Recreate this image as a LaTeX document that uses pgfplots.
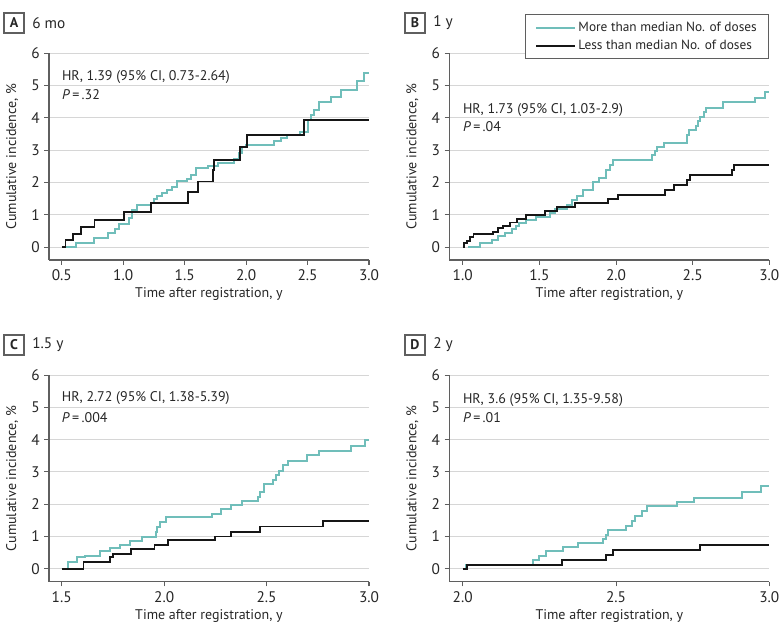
\documentclass[border=0pt]{standalone}
\usepackage{fontspec}
\setmainfont{PT Sans}
\usepackage{pgfplots}
\pgfplotsset{compat=1.18}

\definecolor{moreC}{RGB}{112,190,186}
\definecolor{lessC}{RGB}{22,22,22}
\definecolor{gridC}{RGB}{214,214,214}
\definecolor{axC}{RGB}{95,95,95}

\newcommand{\lblfont}{\fontsize{10.5}{12}\selectfont}
\newcommand{\tickfont}{\fontsize{11.5}{13}\selectfont}

\pgfplotsset{
  km/.style={
    scale only axis, width=240pt, height=155pt,
    ymin=-0.4, ymax=6, xmax=3.0,
    axis x line*=bottom, axis y line*=left,
    ytick={0,1,...,6},
    ymajorgrids, grid style={gridC, line width=0.8pt},
    axis line style={axC, line width=0.8pt},
    tick style={axC, line width=0.8pt},
    tick align=outside, major tick length=3.5pt,
    xticklabel style={/pgf/number format/fixed, /pgf/number format/fixed zerofill, /pgf/number format/precision=1},
    /pgf/number format/assume math mode=true,
    tick label style={font=\tickfont, text=black!85},
    label style={font=\lblfont, text=black!85},
    xlabel={Time after registration, y},
    ylabel={Cumulative incidence, \%},
    xlabel style={at={(axis description cs:0.5,-0.165)}, anchor=center},
    ylabel style={at={(axis description cs:-0.115,0.5)}, anchor=center},
    clip=false,
  },
  more/.style={const plot, no marks, color=moreC, line width=1.5pt},
  less/.style={const plot, no marks, color=lessC, line width=1.4pt},
}

\newcommand{\hr}[3]{%
  \node[anchor=west, font=\lblfont, text=black!85, inner sep=0pt] at (axis cs:#1,#2) {#3};}

\begin{document}
\begin{tikzpicture}
\useasboundingbox (0,0) rectangle (587.25pt,475.5pt);

% A: 6 mo
\begin{axis}[km, at={(36.75pt,280.5pt)}, anchor=south west,
  xmin=0.396, xtick={0.5,1.0,1.5,2.0,2.5,3.0}]
\addplot[more] coordinates {
(0.527,0) (0.617,0.12) (0.766,0.28) (0.88,0.43) (0.935,0.56) (0.962,0.72)
(1.044,0.90) (1.071,1.15) (1.112,1.31) (1.226,1.38) (1.247,1.48) (1.274,1.59)
(1.315,1.67) (1.356,1.77) (1.40,1.87) (1.438,2.06) (1.52,2.10) (1.55,2.24)
(1.59,2.44) (1.69,2.52) (1.77,2.60) (1.90,2.72) (1.94,2.91) (1.97,3.11)
(2.00,3.16) (2.225,3.27) (2.28,3.37) (2.335,3.47) (2.44,3.55) (2.50,3.94)
(2.53,4.10) (2.55,4.25) (2.59,4.50) (2.687,4.66) (2.77,4.87) (2.906,5.15)
(2.96,5.38) (3.0,5.38)};
\addplot[less] coordinates {
(0.5,0) (0.530,0.206) (0.590,0.41) (0.658,0.61) (0.766,0.845) (1.008,1.09)
(1.226,1.36) (1.525,1.70) (1.609,2.03) (1.729,2.39) (1.74,2.70) (1.949,3.11)
(2.009,3.47) (2.471,3.94) (3.0,3.94)};
\hr{0.5}{5.27}{HR, 1.39 (95\% CI, 0.73-2.64)}
\hr{0.5}{4.71}{\textit{P}\,=\,.32}
\end{axis}

% B: 1 y
\begin{axis}[km, at={(337pt,280.5pt)}, anchor=south west,
  xmin=0.9126, xtick={1.0,1.5,2.0,2.5,3.0},
  legend style={at={(axis description cs:1,1.19)}, anchor=north east,
    draw=axC, line width=0.8pt, font=\fontsize{10}{11.5}\selectfont, text=black!85,
    inner xsep=7pt, inner ysep=3.5pt, row sep=1pt},
  legend cell align=left,
  legend image code/.code={\draw[#1, line width=1.4pt] (0pt,0pt) -- (29pt,0pt);}]
\addplot[more] coordinates {
(1.037,0) (1.113,0.12) (1.19,0.23) (1.232,0.33) (1.276,0.45) (1.32,0.55)
(1.35,0.66) (1.37,0.75) (1.415,0.85) (1.48,0.93) (1.57,1.05) (1.60,1.18)
(1.678,1.29) (1.71,1.46) (1.743,1.58) (1.785,1.77) (1.848,2.00) (1.89,2.13)
(1.937,2.39) (1.96,2.55) (1.98,2.70) (2.233,2.85) (2.255,2.96) (2.27,3.09)
(2.315,3.22) (2.46,3.47) (2.475,3.63) (2.52,3.75) (2.535,3.89) (2.546,4.04)
(2.575,4.19) (2.59,4.30) (2.70,4.48) (2.907,4.61) (2.972,4.81) (3.0,4.81)};
\addlegendentry{More than median No. of doses}
\addplot[less] coordinates {
(1.0,0) (1.01,0.12) (1.03,0.20) (1.045,0.31) (1.07,0.40) (1.20,0.48)
(1.232,0.59) (1.265,0.66) (1.309,0.76) (1.356,0.87) (1.413,1.00) (1.537,1.13)
(1.613,1.24) (1.733,1.36) (1.95,1.48) (2.015,1.62) (2.32,1.77) (2.378,1.91)
(2.465,2.08) (2.48,2.22) (2.755,2.39) (2.77,2.55) (3.0,2.55)};
\addlegendentry{Less than median No. of doses}
\hr{1.0}{4.25}{HR, 1.73 (95\% CI, 1.03-2.9)}
\hr{1.0}{3.72}{\textit{P}\,=\,.04}
\end{axis}

% C: 1.5 y
\begin{axis}[km, at={(36.75pt,39.2pt)}, anchor=south west,
  xmin=1.4379, xtick={1.5,2.0,2.5,3.0}]
\addplot[more] coordinates {
(1.525,0) (1.533,0.21) (1.574,0.36) (1.614,0.41) (1.688,0.54) (1.737,0.64)
(1.786,0.74) (1.835,0.86) (1.892,0.98) (1.958,1.13) (1.966,1.29) (1.982,1.44)
(2.007,1.60) (2.235,1.70) (2.276,1.84) (2.325,1.98) (2.382,2.09) (2.459,2.22)
(2.469,2.37) (2.485,2.63) (2.529,2.76) (2.546,2.92) (2.562,3.04) (2.578,3.20)
(2.603,3.33) (2.698,3.51) (2.758,3.64) (2.913,3.81) (2.979,3.99) (3.0,3.99)};
\addplot[less] coordinates {
(1.5,0) (1.606,0.21) (1.734,0.36) (1.75,0.46) (1.84,0.62) (1.953,0.74)
(2.018,0.88) (2.25,1.00) (2.325,1.15) (2.469,1.31) (2.775,1.49) (3.0,1.49)};
\hr{1.5}{5.29}{HR, 2.72 (95\% CI, 1.38-5.39)}
\hr{1.5}{4.69}{\textit{P}\,=\,.004}
\end{axis}

% D: 2 y
\begin{axis}[km, at={(337pt,39.2pt)}, anchor=south west,
  xmin=1.9563, xtick={2.0,2.5,3.0}]
\addplot[more] coordinates {
(2.008,0) (2.011,0.13) (2.23,0.26) (2.25,0.39) (2.272,0.54) (2.328,0.67)
(2.377,0.79) (2.459,0.93) (2.467,1.06) (2.475,1.21) (2.533,1.34) (2.551,1.49)
(2.562,1.62) (2.586,1.80) (2.602,1.93) (2.698,2.06) (2.754,2.20) (2.91,2.37)
(2.972,2.56) (3.0,2.56)};
\addplot[less] coordinates {
(2.0,0) (2.015,0.13) (2.323,0.28) (2.467,0.44) (2.489,0.59) (2.774,0.75)
(3.0,0.75)};
\hr{2.0}{5.22}{HR, 3.6 (95\% CI, 1.35-9.58)}
\hr{2.0}{4.69}{\textit{P}\,=\,.01}
\end{axis}

% panel tags
\tikzset{tag/.style={draw=axC, line width=0.8pt, minimum size=15pt, inner sep=0pt,
  font=\lblfont\bfseries, text=black!85}}
\node[tag] at (10.5pt,458.25pt) {A};
\node[anchor=west, font=\tickfont, text=black!85, inner sep=0pt] at (24pt,458.25pt) {6 mo};
\node[tag] at (311.25pt,458.25pt) {B};
\node[anchor=west, font=\tickfont, text=black!85, inner sep=0pt] at (324.75pt,458.25pt) {1 y};
\node[tag] at (10.5pt,216.75pt) {C};
\node[anchor=west, font=\tickfont, text=black!85, inner sep=0pt] at (24pt,216.75pt) {1.5 y};
\node[tag] at (311.25pt,216.75pt) {D};
\node[anchor=west, font=\tickfont, text=black!85, inner sep=0pt] at (324.75pt,216.75pt) {2 y};
\end{tikzpicture}
\end{document}
